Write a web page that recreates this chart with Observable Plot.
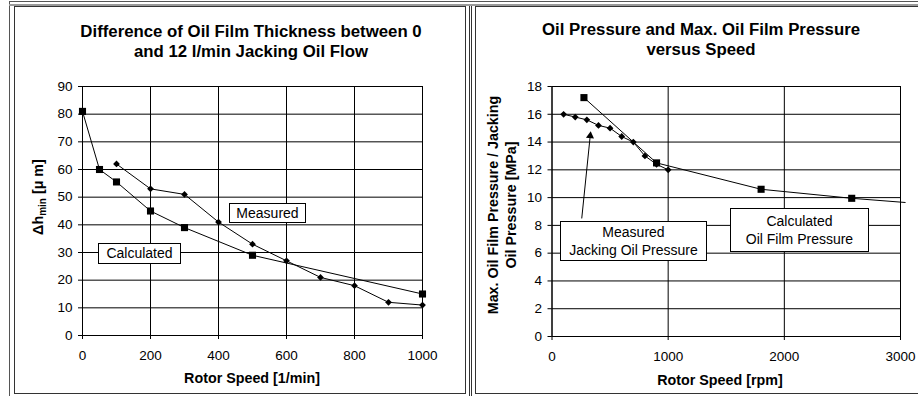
<!DOCTYPE html>
<html>
<head>
<meta charset="utf-8">
<script src="https://cdn.jsdelivr.net/npm/d3@7"></script>
<script src="https://cdn.jsdelivr.net/npm/@observablehq/plot@0.6"></script>
<style>
  body { margin:0; background:#fff; font-family:"Liberation Sans", Arial, sans-serif; }
  #page { position:relative; width:918px; height:396px; overflow:hidden; background:#fff; }
  .abs { position:absolute; }
  .title { position:absolute; font-weight:bold; font-size:16.8px; line-height:20px; text-align:center; white-space:nowrap; color:#000; }
  .axt { position:absolute; font-weight:bold; font-size:14.3px; line-height:16px; text-align:center; white-space:nowrap; color:#000; }
  .box { position:absolute; background:#fff; border:1px solid #000; box-sizing:border-box; font-size:14px; text-align:center; color:#000; white-space:nowrap; }
</style>
</head>
<body>
<div id="page">
  <div id="c1" class="abs" style="left:0;top:0"></div>
  <div id="c2" class="abs" style="left:466px;top:0"></div>
</div>
<script>
// ---- Left chart data: Difference of oil film thickness ----
const leftCalcSpeed = [0, 50, 100, 200, 300, 500, 1000];
const leftCalcDh    = [81, 60, 55.5, 45, 39, 29, 15];
const leftMeasSpeed = [100, 200, 300, 400, 500, 600, 700, 800, 900, 1000];
const leftMeasDh    = [62, 53, 51, 41, 33, 27, 21, 18, 12, 11];
const leftXTicks = [0, 200, 400, 600, 800, 1000];
const leftYTicks = [0, 10, 20, 30, 40, 50, 60, 70, 80, 90];

// ---- Right chart data: pressures vs speed ----
const rightCalcSpeed = [275, 900, 1800, 2580, 3040];
const rightCalcP     = [17.2, 12.5, 10.6, 9.95, 9.65];
const rightCalcMarked = [true, true, true, true, false];
const rightMeasSpeed = [100, 200, 300, 400, 500, 600, 700, 800, 900, 1000];
const rightMeasP     = [16.0, 15.8, 15.6, 15.2, 15.0, 14.4, 14.0, 13.0, 12.4, 12.0];
const rightXTicks = [0, 1000, 2000, 3000];
const rightYTicks = [0, 2, 4, 6, 8, 10, 12, 14, 16, 18];
// annotation arrow (data units): tail -> head
const arrowTail = {x: 256, y: 8.5};
const arrowHead = {x: 329, y: 14.45};

const fmt = d3.format("d");
const style = {fontFamily:"Liberation Sans, Arial, sans-serif", fontSize:"13.5px", color:"#000", background:"transparent", overflow:"visible"};

const lc = leftCalcSpeed.map((s,i)=>({x:s, y:leftCalcDh[i]}));
const lm = leftMeasSpeed.map((s,i)=>({x:s, y:leftMeasDh[i]}));
const left = Plot.plot({
  width:466, height:396,
  marginLeft:82, marginRight:44, marginTop:86, marginBottom:61,
  style,
  x:{domain:[0,1000], ticks:leftXTicks, tickFormat:fmt, tickSize:4, tickPadding:11, label:null},
  y:{domain:[0,90], ticks:leftYTicks, tickFormat:fmt, tickSize:4, tickPadding:6, label:null},
  marks:[
    Plot.ruleX(leftXTicks, {stroke:"#000", strokeWidth:1}),
    Plot.ruleY(leftYTicks, {stroke:"#000", strokeWidth:1}),
    Plot.frame({stroke:"#000"}),
    Plot.line(lc, {x:"x", y:"y", stroke:"#000", strokeWidth:1}),
    Plot.line(lm, {x:"x", y:"y", stroke:"#000", strokeWidth:1}),
    Plot.dot(lc, {x:"x", y:"y", symbol:"square", r:4, fill:"#000", stroke:"none"}),
    Plot.dot(lm, {x:"x", y:"y", symbol:"square", r:2.7, rotate:45, fill:"#000", stroke:"none"})
  ]
});
document.getElementById("c1").appendChild(left);

const rc = rightCalcSpeed.map((s,i)=>({x:s, y:rightCalcP[i], m:rightCalcMarked[i]}));
const rm = rightMeasSpeed.map((s,i)=>({x:s, y:rightMeasP[i]}));
const right = Plot.plot({
  width:452, height:396,
  marginLeft:85.5, marginRight:18, marginTop:86, marginBottom:60,
  style,
  x:{domain:[0,3000], ticks:rightXTicks, tickFormat:fmt, tickSize:4, tickPadding:11, label:null},
  y:{domain:[0,18], ticks:rightYTicks, tickFormat:fmt, tickSize:4, tickPadding:6, label:null},
  marks:[
    Plot.ruleX(rightXTicks, {stroke:"#000", strokeWidth:1}),
    Plot.ruleY(rightYTicks, {stroke:"#000", strokeWidth:1}),
    Plot.frame({stroke:"#000"}),
    Plot.line(rc, {x:"x", y:"y", stroke:"#000", strokeWidth:1}),
    Plot.line(rm, {x:"x", y:"y", stroke:"#000", strokeWidth:1}),
    Plot.dot(rc.filter(d=>d.m), {x:"x", y:"y", symbol:"square", r:4, fill:"#000", stroke:"none"}),
    Plot.dot(rm, {x:"x", y:"y", symbol:"square", r:2.7, rotate:45, fill:"#000", stroke:"none"}),
    Plot.link([{x1:arrowTail.x, y1:arrowTail.y, x2:arrowHead.x, y2:arrowHead.y}], {x1:"x1", y1:"y1", x2:"x2", y2:"y2", stroke:"#000", strokeWidth:1}),
    Plot.dot([arrowHead], {x:"x", y:"y", symbol:"triangle", r:3, rotate:6, fill:"#000", stroke:"none"})
  ]
});
document.getElementById("c2").appendChild(right);

// ---- Frames, titles, labels ----
const page = document.getElementById("page");
function add(html){ page.insertAdjacentHTML("beforeend", html); }
// page/table frames
add('<div class="abs" style="left:9px;top:1px;width:930px;height:420px;border:1px solid #555;box-sizing:border-box"></div>');
add('<div class="abs" style="left:9px;top:4px;width:920px;height:2px;background:#9a9a9a"></div>');
add('<div class="abs" style="left:14px;top:6px;width:452px;height:388px;border:1px solid #333;box-sizing:border-box"></div>');
add('<div class="abs" style="left:469px;top:6px;width:1px;height:400px;background:#333"></div>');
add('<div class="abs" style="left:471px;top:6px;width:1px;height:400px;background:#333"></div>');
add('<div class="abs" style="left:475px;top:6px;width:460px;height:388px;border:1px solid #333;box-sizing:border-box"></div>');

// titles
add('<div class="title" style="left:51px;top:22px;width:400px">Difference of Oil Film Thickness between 0<br>and 12 l/min Jacking Oil Flow</div>');
add('<div class="title" style="left:501px;top:20px;width:400px">Oil Pressure and Max. Oil Film Pressure<br>versus Speed</div>');
// x axis titles
add('<div class="axt" style="left:102px;top:370px;width:300px">Rotor Speed [1/min]</div>');
add('<div class="axt" style="left:570px;top:372px;width:300px">Rotor Speed [rpm]</div>');
// y axis titles
add('<div class="axt" style="left:-62px;top:189px;width:200px;height:16px;transform:rotate(-90deg)">&Delta;h<span style="font-size:10px;position:relative;top:3px">min</span> [&mu; m]</div>');
add('<div class="axt" style="left:372px;top:187px;width:260px;height:36px;line-height:18px;transform:rotate(-90deg)">Max. Oil Film Pressure / Jacking<br>Oil Pressure [MPa]</div>');
// annotation boxes
add('<div class="box" style="left:229px;top:203px;width:77px;height:20px;line-height:18px">Measured</div>');
add('<div class="box" style="left:98px;top:243px;width:83px;height:21px;line-height:19px">Calculated</div>');
add('<div class="box" style="left:560px;top:221px;width:147px;height:40px;line-height:17.5px;padding-top:2px">Measured<br>Jacking Oil Pressure</div>');
add('<div class="box" style="left:730px;top:208px;width:139px;height:44px;line-height:17.5px;padding-top:4px">Calculated<br>Oil Film Pressure</div>');
</script>
</body>
</html>
